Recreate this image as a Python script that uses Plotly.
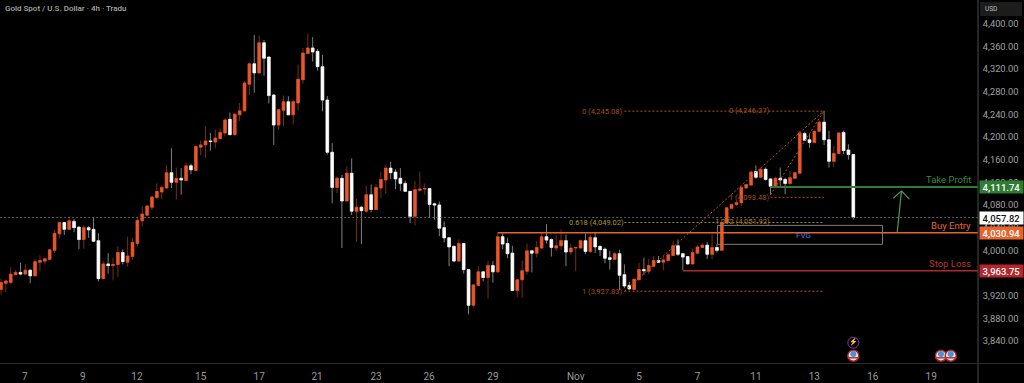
import plotly.graph_objects as go

highs = [3950,3948,3970,3965,3978,3976,3966,3985,3991,3987,4002,4037,4050,4050,4060,4055,4041,4044,4043,4058,
4030,3981,3995,3987,4007,4002,4024,4022,4060,4078,4080,4096,4118,4114,4150,4180,4146,4145,4155,4153,
4186,4194,4219,4207,4213,4215,4233,4243,4242,4260,4299,4331,4380,4379,4371,4341,4275,4249,4273,4272,
4266,4328,4357,4382,4376,4355,4345,4272,4189,4130,
4133,4148,4162,4091,4078,4114,4116,4117,4138,4151,4156,4143,4145,4123,4105,4122,4139,4118,4110,4084,
4086,4051,4022,4008,4019,4013,3966,3940,3972,3963,3981,3981,4031,4030,4022,4008,3949,3982,4012,4001,
4016,4031,4046,4021,4026,4037,4028,4011,4006,4019,4029,4027,4031,4008,4005,3999,3997,4001,3975,3944,
3950,3978,3987,3985,3990,3990,3990,3995,4017,4019,
3994,3990,4003,4009,4012,4014,4028,4011,4055,4077,4081,4087,4113,4117,4141,4150,4146,4146,4127,4130,
4146,4128,4140,4138,4211,4209,4205,4213,4229,4246,4211,4184,4209,4211,4187,4170]
opens = [3931,3942,3943,3957,3961,3958,3965,3955,3979,3981,3984,4000,4029,4049,4037,4051,4041,4019,4040,4037,
4017,3950,3976,3973,3975,3996,3979,3989,4012,4052,4062,4076,4093,4103,4110,4137,4120,4127,4123,4149,
4141,4182,4186,4193,4191,4197,4207,4231,4204,4239,4246,4293,4329,4313,4366,4341,4274,4221,4247,4262,
4239,4260,4301,4347,4357,4351,4324,4265,4173,4111,
4127,4087,4136,4069,4076,4069,4098,4072,4110,4124,4145,4138,4127,4118,4104,4060,4106,4108,4109,4082,
4080,4040,4022,4007,3981,4012,3966,3903,3938,3962,3952,3973,3962,4024,4012,3995,3929,3948,3963,3999,
3995,4004,4024,4019,4004,4008,4017,3997,4004,4004,4017,3998,4022,4007,4002,3987,3984,3994,3957,3938,
3931,3948,3966,3963,3972,3982,3979,3982,3991,4008,
3994,3989,3976,3995,4005,4009,3993,4005,4000,4048,4074,4081,4084,4110,4115,4139,4129,4143,4126,4113,
4127,4125,4118,4127,4136,4206,4195,4190,4210,4226,4195,4157,4171,4208,4177,4169]
lows = [3922,3926,3940,3956,3956,3957,3942,3954,3963,3975,3982,3995,4021,4027,4036,4032,4002,4003,4022,4016,
3945,3950,3959,3947,3953,3975,3971,3984,4006,4042,4061,4071,4091,4090,4108,4110,4090,4098,4122,4134,
4140,4168,4163,4176,4180,4196,4201,4203,4203,4228,4245,4274,4278,4311,4308,4259,4186,4213,4219,4239,
4222,4246,4294,4347,4333,4317,4245,4169,4083,4101,
4004,4086,4062,4015,4011,4067,4067,4072,4092,4100,4126,4108,4105,4103,4048,4044,4105,4098,4058,4054,
4025,4014,3972,3979,3979,3959,3887,3900,3937,3945,3915,3943,3960,4002,3986,3928,3917,3916,3957,3961,
3987,4003,4012,3989,3999,4001,3972,3992,3963,4003,3993,3995,3995,3990,3977,3966,3983,3930,3933,3930,
3931,3948,3957,3958,3972,3978,3965,3981,3990,3990,
3965,3975,3975,3993,4004,3985,3984,3996,3999,4047,4074,4078,4078,4108,4115,4126,4128,4123,4098,4113,
4114,4099,4115,4126,4136,4193,4181,4189,4209,4186,4146,4147,4171,4170,4160,4054]
closes = [3943,3946,3958,3961,3958,3965,3955,3980,3982,3985,4001,4030,4049,4037,4052,4040,4019,4040,4036,4016,
3950,3976,3973,3975,3996,3980,3990,4014,4053,4064,4078,4094,4104,4111,4137,4120,4127,4124,4149,4142,
4183,4186,4193,4192,4198,4208,4230,4204,4240,4246,4295,4329,4313,4366,4339,4273,4221,4248,4262,4239,
4262,4302,4348,4357,4350,4324,4265,4173,4111,4127,
4087,4136,4069,4076,4070,4098,4072,4111,4125,4145,4137,4126,4118,4104,4060,4107,4108,4109,4081,4080,
4039,4022,4006,3981,4012,3966,3903,3939,3962,3952,3973,3962,4024,4011,3994,3929,3948,3964,3999,3995,
4005,4024,4018,4005,4008,4017,3997,4004,4005,4017,3998,4023,4006,4001,3986,3984,3994,3956,3937,3932,
3949,3966,3964,3973,3982,3979,3983,3992,4008,3993,
3988,3976,3996,4006,4009,3993,4005,4000,4049,4075,4081,4084,4111,4116,4138,4129,4143,4125,4113,4127,
4124,4118,4128,4137,4207,4194,4190,4210,4226,4195,4157,4171,4207,4176,4169,4058]

tick_index = [4.9,16.8,27.9,41,53,64.9,77,87.9,101,118,131,143,155,167,179,191]
tick_text = ["7","9","12","15","17","21","23","26","29","Nov","5","7","11","13","16","19"]
price_ticks = [4400,4360,4320,4280,4240,4200,4160,4120,4080,4040,4000,3920,3880,3840]

last_price = 4057.82
buy_entry = 4030.94
take_profit = 4111.74
stop_loss = 3963.75

ORANGE = "#e9572b"
idx = list(range(len(closes)))
body_hi = [max(o, c) for o, c in zip(opens, closes)]
body_lo = [min(o, c) for o, c in zip(opens, closes)]
AXIS_FRAC = 978/1024
BOTTOM_FRAC = 19.5/383

fig = go.Figure()
fig.add_trace(go.Candlestick(
    x=idx, open=opens, high=highs, low=lows, close=closes, whiskerwidth=0,
    increasing=dict(line=dict(color="#7a2c12", width=1), fillcolor=ORANGE),
    decreasing=dict(line=dict(color="#808080", width=1), fillcolor="#ffffff"),
    showlegend=False, hoverinfo="skip"))
fig.add_trace(go.Candlestick(
    x=idx, open=opens, high=body_hi, low=body_lo, close=closes, whiskerwidth=0,
    increasing=dict(line=dict(color=ORANGE, width=0.5), fillcolor=ORANGE),
    decreasing=dict(line=dict(color="#ffffff", width=0.5), fillcolor="#ffffff"),
    showlegend=False))

shapes = []
def seg(x0, y0, x1, y1, color, width=1, dash="solid"):
    shapes.append(dict(type="line", xref="x", yref="y", x0=x0, y0=y0, x1=x1, y1=y1,
                       line=dict(color=color, width=width, dash=dash), layer="above"))

RIGHT = 200.6
DOT_OR = "#b9541a"
DOT_YE = "#9a8c20"
seg(-1, last_price, RIGHT, last_price, "#5e5e5e", 1, "2px,2px")
seg(128, 4245.5, 169, 4245.5, DOT_OR, 1, "2px,2px")
seg(128, 3927.83, 169, 3927.83, DOT_OR, 1, "2px,2px")
seg(128, 4049.02, 169, 4049.02, DOT_YE, 1, "2px,2px")
seg(158, 4093.48, 169, 4093.48, DOT_OR, 1, "2px,2px")
seg(128, 3927.83, 169, 4246.27, DOT_OR, 1, "2px,2px")
seg(158, 4098, 169, 4246.27, DOT_OR, 1, "2px,2px")
seg(102, buy_entry, RIGHT, buy_entry, "#e8642f", 1.5)
seg(158, take_profit, RIGHT, take_profit, "#2f7d32", 2)
seg(140, stop_loss, RIGHT, stop_loss, "#b02a2a", 1.5)
shapes.append(dict(type="rect", xref="x", yref="y", x0=147.1, x1=181, y0=4010.6, y1=4044,
                   line=dict(color="#7d7d7d", width=1), fillcolor="rgba(0,0,0,0)", layer="above"))
seg(184.0, buy_entry, 184.9, 4104.8, "#4f9a52", 1.2)
seg(183.2, 4091.9, 184.9, 4104.8, "#4f9a52", 1.2)
seg(186.5, 4090.2, 184.9, 4104.8, "#4f9a52", 1.2)
shapes.append(dict(type="line", xref="paper", yref="paper", x0=AXIS_FRAC, x1=AXIS_FRAC, y0=0, y1=1,
                   line=dict(color="#4a4a4a", width=1)))
shapes.append(dict(type="line", xref="paper", yref="paper", x0=0, x1=1, y0=BOTTOM_FRAC, y1=BOTTOM_FRAC,
                   line=dict(color="#2a2a2a", width=1)))
shapes.append(dict(type="rect", xref="paper", yref="paper", x0=980/1024, x1=1022/1024, y0=1-16/383, y1=1-2/383,
                   line=dict(width=0), fillcolor="#1c1c1c"))

FONT = "Roboto"
ann = []
def note(text, x, y, color, size=7.5, anchor="center"):
    ann.append(dict(text=text, x=x, y=y, xref="x", yref="y", showarrow=False, xanchor=anchor,
                    yanchor="middle", font=dict(family=FONT, size=size, color=color)))

note("0 (4,245.08)", 123.5, 4245.5, "#a84e14")
note("0 (4,246.27)", 153.5, 4246, "#a84e14")
note("1 (3,927.83)", 123.5, 3927.83, "#a84e14")
note("0.618 (4,049.02)", 122.2, 4049.02, "#a89a28")
note("1 (4,093.48)", 153.5, 4093.48, "#a84e14")
note("1.272 (4,051.92)", 152.3, 4051.5, "#a87a20")
note("FVG", 164.7, 4027, "#3f78e0", 8)
note("Take Profit", 199.6, 4125, "#3a8a3e", 9.5, "right")
note("Buy Entry", 199.6, 4044, "#e8642f", 9.5, "right")
note("Stop Loss", 199.6, 3977, "#b83232", 9.5, "right")

def price_tag(price, bg, fg):
    ann.append(dict(text=f"{price:,.2f}", x=AXIS_FRAC, y=price, xref="paper", yref="y", xanchor="left",
                    yanchor="middle", xshift=1, showarrow=False, width=43, height=12, borderpad=0,
                    bgcolor=bg, font=dict(family=FONT, size=9.5, color=fg, weight=500)))
price_tag(take_profit, "#2f7d32", "#ffffff")
price_tag(last_price, "#ffffff", "#111111")
price_tag(buy_entry, "#e8642f", "#ffffff")
price_tag(stop_loss, "#b3262e", "#ffffff")

ann.append(dict(text="Gold Spot / U.S. Dollar · 4h · Tradu", xref="paper", yref="paper", x=0, y=1,
                xanchor="left", yanchor="top", xshift=4, yshift=-3, showarrow=False, borderpad=0,
                font=dict(family=FONT, size=8, color="#a8a8a8", weight=500)))
ann.append(dict(text="USD", xref="paper", yref="paper", x=AXIS_FRAC, y=1, xanchor="left", yanchor="top",
                xshift=6, yshift=-4, showarrow=False, borderpad=0,
                font=dict(family=FONT, size=6.5, color="#bcbcbc")))

flag_x = [175, 193, 195]
flag_y = [3814, 3814, 3814]
fig.add_trace(go.Scatter(x=flag_x, y=flag_y, mode="markers", showlegend=False, hoverinfo="skip",
                         marker=dict(size=11, color="#e9e4e4", line=dict(color="#a52a2a", width=1.5))))
fig.add_trace(go.Scatter(x=flag_x, y=[v + 3 for v in flag_y], mode="markers", showlegend=False, hoverinfo="skip",
                         marker=dict(size=6, color="#4a8fdc")))
fig.add_trace(go.Scatter(x=flag_x, y=[v - 3.5 for v in flag_y], mode="markers", showlegend=False, hoverinfo="skip",
                         marker=dict(size=8, symbol="line-ew", line=dict(color="#c8322d", width=1.5))))
fig.add_trace(go.Scatter(x=[175], y=[3837], mode="markers+text", showlegend=False, hoverinfo="skip",
                         text=["⚡"], textposition="middle center", textfont=dict(size=7, color="#9b3fb5"),
                         marker=dict(size=11, color="rgba(0,0,0,0)", line=dict(color="#8e35a8", width=1))))

fig.update_layout(
    width=1024, height=383, margin=dict(l=0, r=0, t=0, b=0), autosize=False,
    paper_bgcolor="#000000", plot_bgcolor="#000000", boxgap=0.22,
    shapes=shapes, annotations=ann, showlegend=False,
    xaxis=dict(domain=[0, AXIS_FRAC], range=[-0.205, RIGHT], rangeslider=dict(visible=False),
               showgrid=False, zeroline=False, tickmode="array", tickvals=tick_index, ticktext=tick_text,
               tickfont=dict(family=FONT, size=10, color="#9a9a9a"), showline=False,
               ticks="outside", ticklen=3, tickcolor="#000000", fixedrange=True),
    yaxis=dict(domain=[BOTTOM_FRAC, 1], range=[3800.3, 4441.6], side="right", showgrid=False, zeroline=False,
               tickmode="array", tickvals=price_ticks, tickformat=",.2f",
               tickfont=dict(family=FONT, size=9.3, color="#a0a0a0"), showline=False,
               ticks="outside", ticklen=2, tickcolor="#000000", fixedrange=True),
)
fig.write_html("out.html", config=dict(displayModeBar=False),
               post_script="document.body.style.margin='0';document.body.style.background='#000';document.documentElement.style.overflow='hidden';")
